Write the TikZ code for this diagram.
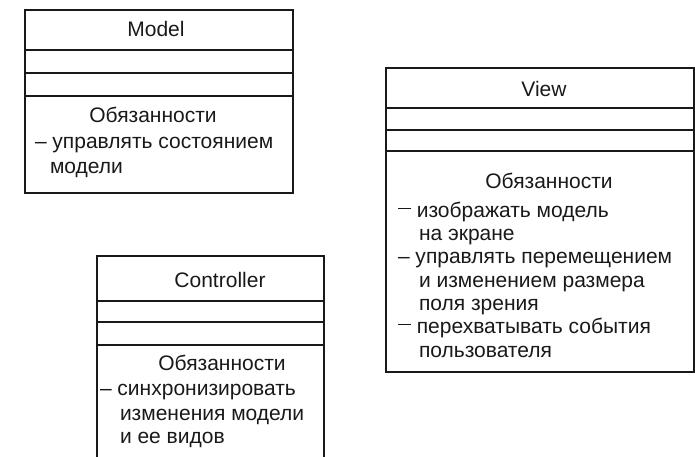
\documentclass[tikz,border=0pt]{standalone}
\usepackage{fontspec}
\setmainfont{Liberation Sans}
\begin{document}
\begin{tikzpicture}[x=1pt,y=-1pt,
  boxline/.style={draw=black!90, line width=2.2pt},
  txt/.style={inner sep=0pt, outer sep=0pt, font=\fontsize{21}{24}\selectfont, text=black!90},
  ctr/.style={txt, anchor=base},
  lft/.style={txt, anchor=base west}]
\useasboundingbox (0,0) rectangle (695,456);
\newcommand{\rdash}{\raisebox{8pt}{\rule{13pt}{1.3pt}}}
% Model
\draw[boxline] (25,10) rectangle (293,193);
\draw[boxline] (25,50) -- (293,50) (25,73) -- (293,73) (25,96) -- (293,96);
\node[ctr] (mt) at (156,36) {Model};
\node[ctr] (mr) at (153,122) {Обязанности};
\node[lft] (m1) at (35,148) {– управлять состоянием};
\node[lft] (m2) at (50,173) {модели};
% View
\draw[boxline] (386,68) rectangle (694,372);
\draw[boxline] (386,108) -- (694,108) (386,130) -- (694,130) (386,151) -- (694,151);
\node[ctr] (vt) at (544,96) {View};
\node[ctr] (vr) at (549,188) {Обязанности};
\node[lft] (v1) at (398,217) {\rdash\ изображать модель};
\node[lft] (v2) at (419,240) {на экране};
\node[lft] (v3) at (398,263) {– управлять перемещением};
\node[lft] (v4) at (419,287) {и изменением размера};
\node[lft] (v5) at (419,310) {поля зрения};
\node[lft] (v6) at (398,333) {\rdash\ перехватывать события};
\node[lft] (v7) at (419,357) {пользователя};
% Controller
\draw[boxline] (97,470) -- (97,256) -- (324,256) -- (324,470);
\draw[boxline] (97,301) -- (324,301) (97,322) -- (324,322) (97,345) -- (324,345);
\node[ctr] (ct) at (220,287) {Controller};
\node[ctr] (cr) at (222,370) {Обязанности};
\node[lft] (c1) at (100,395) {– синхронизировать};
\node[lft] (c2) at (120,420) {изменения модели};
\node[lft] (c3) at (120,443) {и ее видов};
\end{tikzpicture}
\end{document}
